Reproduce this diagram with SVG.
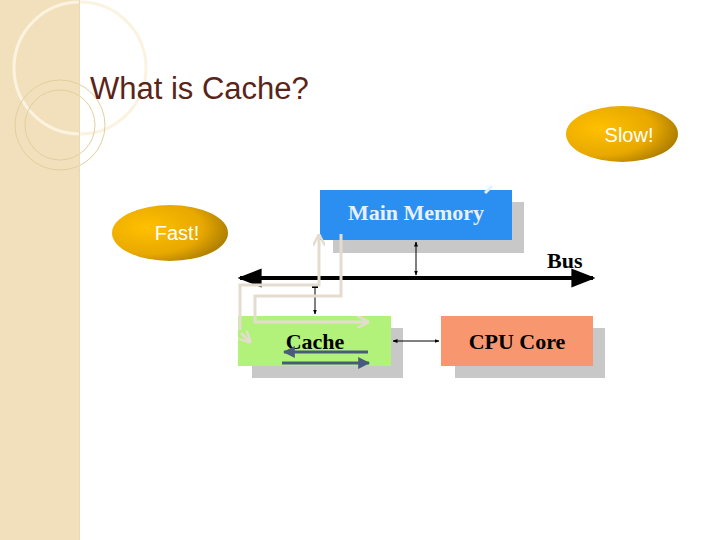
<svg xmlns="http://www.w3.org/2000/svg" width="720" height="540" viewBox="0 0 720 540">
<defs>
<radialGradient id="g" cx="0.3" cy="0.4" r="0.8"><stop offset="0" stop-color="#ffc000"/><stop offset="0.6" stop-color="#e8a800"/><stop offset="1" stop-color="#9a7000"/></radialGradient>
<marker id="a" viewBox="0 0 10 10" refX="9" refY="5" markerWidth="6" markerHeight="6" orient="auto-start-reverse"><path d="M0,1 L10,5 L0,9 z" fill="#000"/></marker>
<marker id="ab" viewBox="0 0 10 10" refX="9" refY="5" markerWidth="5" markerHeight="5" orient="auto-start-reverse"><path d="M0,1 L10,5 L0,9 z" fill="#000"/></marker>
<marker id="al" viewBox="0 0 10 10" refX="9" refY="5" markerWidth="4" markerHeight="4" orient="auto"><path d="M0,0 L10,5 L0,10" fill="none" stroke="#e4ddcf" stroke-width="2"/></marker>
<marker id="ad" viewBox="0 0 10 10" refX="9" refY="5" markerWidth="4" markerHeight="4" orient="auto"><path d="M0,0 L10,5 L0,10 z" fill="#4a5a7a"/></marker>
</defs>
<style>
.t{font-family:"Liberation Serif",serif;font-weight:bold;font-size:22px}
.s{font-family:"Liberation Sans",sans-serif;font-size:20px}
.l{fill:none;stroke:#e4ddcf;stroke-width:3}
</style>
<rect width="720" height="540" fill="#fff"/>
<rect width="79" height="540" fill="#f1e0bb"/>
<circle cx="80" cy="68" r="66" fill="none" stroke="#fbf3e0" stroke-width="3"/>
<circle cx="60" cy="125" r="45" fill="none" stroke="#e2cfa0" stroke-width="1"/>
<circle cx="60" cy="125" r="35" fill="none" stroke="#e2cfa0" stroke-width="1"/>
<rect x="79" y="0" width="1" height="540" fill="#e8d9b8"/>
<text x="90" y="99" font-family="Liberation Sans,sans-serif" font-size="31" fill="#5a2418">What is Cache?</text>
<g id="slow"><ellipse cx="622" cy="134" rx="56" ry="28" fill="url(#g)"/><text class="s" x="629" y="142" text-anchor="middle" fill="#fff">Slow!</text></g>
<g id="fast"><ellipse cx="170" cy="233" rx="58" ry="28" fill="url(#g)"/><text class="s" x="177" y="240" text-anchor="middle" fill="#fff">Fast!</text></g>
<g id="mainmemory"><rect x="333" y="202" width="191" height="51" fill="#c8c8c8"/><rect x="320" y="190" width="192" height="50" fill="#2a8ff0"/><text class="t" x="416" y="220" text-anchor="middle" fill="#e8f0ff">Main Memory</text></g>
<g id="cache"><rect x="252" y="328" width="151" height="50" fill="#c8c8c8"/><rect x="238" y="316" width="153" height="50" fill="#b2f27a"/><text class="t" x="315" y="349" text-anchor="middle" fill="#000">Cache</text></g>
<g id="cpu"><rect x="455" y="328" width="150" height="50" fill="#c8c8c8"/><rect x="441" y="316" width="152" height="50" fill="#f8976f"/><text class="t" x="517" y="349" text-anchor="middle" fill="#000">CPU Core</text></g>
<text class="t" x="547" y="268" fill="#000">Bus</text>
<g id="connectors">
<line x1="240" y1="278" x2="593" y2="278" stroke="#000" stroke-width="4" marker-start="url(#a)" marker-end="url(#a)"/>
<line x1="416" y1="242" x2="416" y2="275" stroke="#000" stroke-width="1" marker-start="url(#ab)" marker-end="url(#ab)"/>
<line x1="315" y1="286" x2="315" y2="314" stroke="#000" stroke-width="1" marker-end="url(#ab)"/>
<rect x="312" y="285" width="6" height="3" fill="#000"/>
<line x1="393" y1="341" x2="439" y2="341" stroke="#000" stroke-width="1" marker-start="url(#ab)" marker-end="url(#ab)"/>
<polyline class="l" points="240,330 240,285 319,285 319,235" marker-end="url(#al)"/>
<polyline class="l" points="341,234 341,296 255,296 255,322 368,322" marker-end="url(#al)"/>
<line class="l" x1="241" y1="333" x2="250" y2="342" stroke="#fff" marker-end="url(#al)"/>
<line x1="368" y1="352" x2="284" y2="352" stroke="#4a5a7a" stroke-width="3" marker-end="url(#ad)"/>
<line x1="282" y1="363" x2="369" y2="363" stroke="#4a5a7a" stroke-width="3" marker-end="url(#ad)"/>
<line x1="485" y1="193" x2="492" y2="186" stroke="#e8f0ff" stroke-width="3"/>
</g>
</svg>
